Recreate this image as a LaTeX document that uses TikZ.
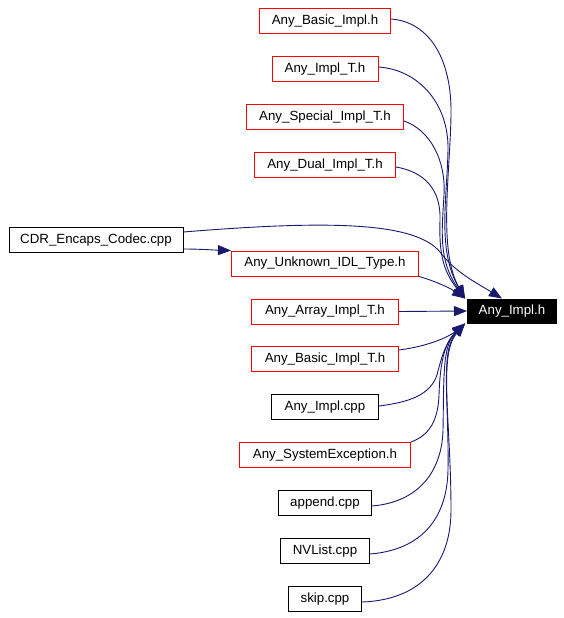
\documentclass[tikz,border=0pt]{standalone}
\usepackage{fontspec}
\setmainfont{Liberation Sans}
\usetikzlibrary{arrows.meta}
\definecolor{edgec}{HTML}{191970}
\tikzset{
  filebox/.style={draw=black, line width=1pt, rectangle, inner sep=0pt, minimum height=25pt,
     font=\fontsize{13.3}{15}\selectfont, text=black},
  redbox/.style={filebox, draw=red},
  rootbox/.style={filebox, fill=black, text=white},
  dep/.style={draw=edgec, line width=0.9pt, -{Triangle[length=13pt,width=10pt]}}
}
\begin{document}
\begin{tikzpicture}[x=1pt,y=-1pt]
\useasboundingbox (0,0) rectangle (564,618);
% nodes
\node[redbox, minimum width=131pt] (basic) at (325,21) {Any\_Basic\_Impl.h};
\node[redbox, minimum width=106pt] (implt) at (325,69) {Any\_Impl\_T.h};
\node[redbox, minimum width=157pt] (special) at (325,117) {Any\_Special\_Impl\_T.h};
\node[redbox, minimum width=141pt] (dual) at (325,165) {Any\_Dual\_Impl\_T.h};
\node[filebox, minimum width=174pt] (cdr) at (96,240) {CDR\_Encaps\_Codec.cpp};
\node[redbox, minimum width=187pt] (unknown) at (325,263.5) {Any\_Unknown\_IDL\_Type.h};
\node[rootbox, minimum width=89pt, minimum height=24pt] (impl) at (512,311) {Any\_Impl.h};
\node[redbox, minimum width=147pt] (array) at (325,311.5) {Any\_Array\_Impl\_T.h};
\node[redbox, minimum width=147pt] (basict) at (325,359) {Any\_Basic\_Impl\_T.h};
\node[filebox, minimum width=107pt] (implcpp) at (325,407) {Any\_Impl.cpp};
\node[redbox, minimum width=171pt] (sysexc) at (325,455) {Any\_SystemException.h};
\node[filebox, minimum width=93pt] (append) at (325,503) {append.cpp};
\node[filebox, minimum width=89pt] (nvlist) at (325,551) {NVList.cpp};
\node[filebox, minimum width=73pt] (skip) at (325,599) {skip.cpp};
% edges (top group)
\draw[dep] (basic.east |- 0,19) .. controls (430,22) and (452,60) .. (451,115)
   .. controls (450,175) and (438,250) .. (465,298.5);
\draw[dep] (implt.east |- 0,67) .. controls (420,70) and (449,105) .. (448,150)
   .. controls (447,200) and (437,250) .. (465,298.5);
\draw[dep] (special.east |- 0,121) .. controls (430,130) and (446,160) .. (444,195)
   .. controls (442,230) and (438,260) .. (465,298.5);
\draw[dep] (dual.east |- 0,167) .. controls (425,172) and (441,190) .. (440,220)
   .. controls (439,250) and (442,270) .. (465,298.5);
\draw[dep] (cdr.east |- 0,232) .. controls (330,220) and (415,222) .. (440,252)
   .. controls (455,272) and (475,282) .. (502,298.5);
\draw[dep] (cdr.east |- 0,249) .. controls (200,249) and (212,250) .. (unknown.north west);
\draw[dep] (unknown.south east) .. controls (435,281) and (450,288) .. (465,298.5);
\draw[dep] (array.east) -- (impl.west);
% edges (bottom group)
\draw[dep] (basict.east |- 0,350) .. controls (430,346) and (450,336) .. (465,323.5);
\draw[dep] (implcpp.east |- 0,406) .. controls (410,402) and (430,395) .. (437,375)
   .. controls (442,355) and (446,342) .. (465,323.5);
\draw[dep] (sysexc.north east) .. controls (430,435) and (438,420) .. (439,395)
   .. controls (440,362) and (445,342) .. (465,323.5);
\draw[dep] (append.east |- 0,506) .. controls (420,502) and (442,470) .. (443,430)
   .. controls (444,380) and (442,345) .. (465,323.5);
\draw[dep] (nvlist.east |- 0,554) .. controls (420,550) and (447,520) .. (448,470)
   .. controls (449,400) and (440,350) .. (465,323.5);
\draw[dep] (skip.east |- 0,602) .. controls (420,600) and (451,565) .. (451,510)
   .. controls (451,420) and (438,355) .. (465,323.5);
\end{tikzpicture}
\end{document}
